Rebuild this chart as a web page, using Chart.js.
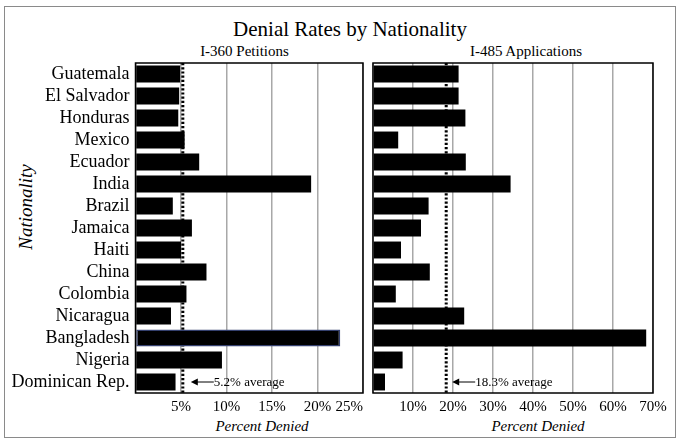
<!DOCTYPE html>
<html><head><meta charset="utf-8">
<script src="https://cdn.jsdelivr.net/npm/chart.js@4.4.1/dist/chart.umd.min.js"></script>
<style>
html,body{margin:0;padding:0;background:#fff;}
#wrap{position:relative;width:680px;height:443px;overflow:hidden;font-family:"Liberation Serif","Times New Roman",serif;color:#000;}
#frame{position:absolute;left:4px;top:6px;width:672px;height:432px;border:1.5px solid #8a8a8a;box-sizing:border-box;}
.t{position:absolute;white-space:nowrap;transform:translate(-50%,-50%);line-height:1.15;}
.c{position:absolute;top:0;}
</style></head>
<body>
<div id="wrap">
  <div id="frame"></div>
  <div class="t" style="left:350px;top:29px;font-size:21px;">Denial Rates by Nationality</div>
  <div class="t" style="left:244.5px;top:52px;font-size:15px;">I-360 Petitions</div>
  <div class="t" style="left:526px;top:52px;font-size:15px;">I-485 Applications</div>
  <div class="t" style="left:262px;top:427px;font-size:15px;font-style:italic;">Percent Denied</div>
  <div class="t" style="left:538px;top:427px;font-size:15px;font-style:italic;">Percent Denied</div>
  <div class="t" style="left:25.5px;top:207px;font-size:19px;font-style:italic;transform:translate(-50%,-50%) rotate(-90deg);">Nationality</div>
  <canvas id="left" class="c" style="left:0;" width="368" height="443"></canvas>
  <canvas id="right" class="c" style="left:368px;" width="312" height="443"></canvas>
</div>
<script>
const categories = ["Guatemala","El Salvador","Honduras","Mexico","Ecuador","India","Brazil","Jamaica","Haiti","China","Colombia","Nicaragua","Bangladesh","Nigeria","Dominican Rep."];
const i360Rates = [4.9,4.8,4.7,5.4,7.0,19.3,4.1,6.2,5.0,7.8,5.6,3.9,22.5,9.5,4.4];
const i485Rates = [21.4,21.4,23.1,6.3,23.2,34.4,13.9,12.0,7.0,14.2,5.7,22.8,68.3,7.4,3.0];
const i360Max = 25, i360Step = 5;
const i485Max = 70, i485Step = 10;
const i360Average = 5.2;
const i485Average = 18.3;
const highlighted = "Bangladesh";

const SERIF = '"Liberation Serif","Times New Roman",serif';

function panelPlugin(avg, labelText, arrowStart, arrowEnd){
  return {
    id: 'panelDecor',
    beforeDatasetsDraw(chart){
      const {ctx, chartArea:a, scales:{x}} = chart;
      const px = x.getPixelForValue(avg);
      ctx.save();
      ctx.strokeStyle = '#000';
      ctx.lineWidth = 3;
      ctx.setLineDash([2.2, 2]);
      ctx.beginPath();
      ctx.moveTo(px, a.top);
      ctx.lineTo(px, a.bottom);
      ctx.stroke();
      ctx.restore();
    },
    afterDraw(chart){
      const {ctx, chartArea:a, scales:{x, y}} = chart;
      ctx.save();
      ctx.strokeStyle = '#000';
      ctx.lineWidth = 1.5;
      ctx.strokeRect(a.left, a.top, a.right - a.left, a.bottom - a.top);
      const px = x.getPixelForValue(avg);
      const py = y.getPixelForValue(categories.length - 1);
      const x0 = px + arrowStart, x1 = px + arrowEnd;
      ctx.lineWidth = 1;
      ctx.beginPath();
      ctx.moveTo(x0 + 5, py);
      ctx.lineTo(x1, py);
      ctx.stroke();
      ctx.fillStyle = '#000';
      ctx.beginPath();
      ctx.moveTo(x0, py);
      ctx.lineTo(x0 + 7, py - 3.5);
      ctx.lineTo(x0 + 7, py + 3.5);
      ctx.closePath();
      ctx.fill();
      ctx.font = '13px ' + SERIF;
      ctx.textAlign = 'left';
      ctx.textBaseline = 'middle';
      ctx.fillText(labelText, x1, py + 0.5);
      ctx.restore();
    }
  };
}

function makeChart(id, data, max, step, avg, label, isLeft){
  return new Chart(document.getElementById(id), {
    type: 'bar',
    data: {
      labels: categories,
      datasets: [{
        data: data,
        backgroundColor: '#000',
        borderColor: categories.map(c => (isLeft && c === highlighted) ? '#34406e' : '#000'),
        borderWidth: categories.map(c => (isLeft && c === highlighted) ? 1.5 : 0),
        borderSkipped: false,
        barPercentage: 0.77,
        categoryPercentage: 1.0
      }]
    },
    options: {
      indexAxis: 'y',
      responsive: false,
      animation: false,
      events: [],
      layout: { padding: isLeft ? {top:63, right:5, left:0, bottom:0} : {top:63, right:27, left:5, bottom:0} },
      plugins: { legend: {display:false}, tooltip: {enabled:false}, title: {display:false} },
      scales: {
        x: {
          min: 0, max: max,
          grid: { color: '#a8a8a8', lineWidth: 1.5, drawTicks: false },
          border: { display: false },
          ticks: {
            stepSize: step,
            autoSkip: false,
            maxRotation: 0,
            align: isLeft ? 'inner' : 'center',
            padding: 5,
            color: '#000',
            font: { family: SERIF, size: 15 },
            callback: v => v === 0 ? '' : v + '%'
          },
          afterFit: s => { s.height = 50; }
        },
        y: {
          grid: { display: false, drawTicks: false },
          border: { display: false },
          ticks: {
            display: isLeft,
            padding: 6,
            color: '#000',
            font: { family: SERIF, size: 18 },
            autoSkip: false
          },
          afterFit: s => { s.width = isLeft ? 135.5 : 0; }
        }
      }
    },
    plugins: [panelPlugin(avg, label, isLeft ? 8 : 6, isLeft ? 31 : 29)]
  });
}

makeChart('left', i360Rates, i360Max, i360Step, i360Average, i360Average + '% average', true);
makeChart('right', i485Rates, i485Max, i485Step, i485Average, i485Average + '% average', false);
</script>
</body></html>
